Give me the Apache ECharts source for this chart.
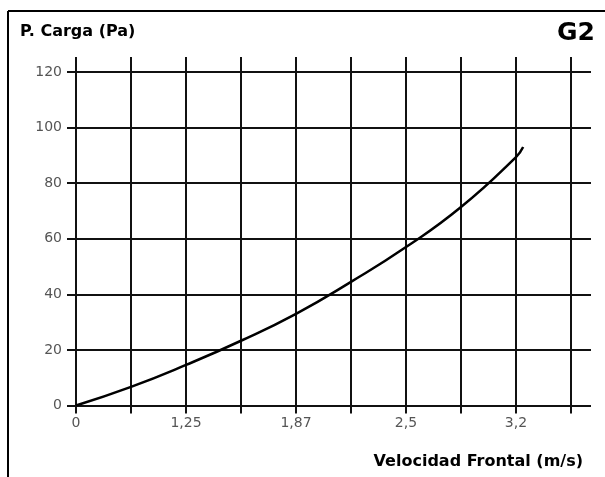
<!DOCTYPE html>
<html>
<head>
<meta charset="utf-8">
<script src="https://cdn.jsdelivr.net/npm/echarts@6/dist/echarts.min.js"></script>
<style>
  html, body { margin: 0; padding: 0; background: #fff; }
  #chart { width: 605px; height: 477px; }
</style>
</head>
<body>
<div id="chart"></div>
<script>
// x positions are grid steps (one vertical line per step), labelled below
const xTickLabels = ['0', '', '1,25', '', '1,87', '', '2,5', '', '3,2', '']
const yTicks = [0, 20, 40, 60, 80, 100, 120]

// curve: grid step -> pressure (Pa)
const curveX = [0, 1, 2, 3, 4, 5, 6, 7, 8, 8.13]
const curveY = [0, 6.7, 14.6, 23.3, 33, 44.5, 57, 71.4, 89.4, 93]

const ink = '#111'
const font = '"DejaVu Sans", "Liberation Sans", sans-serif'

const chart = echarts.init(document.getElementById('chart'))

const lineStyle = { color: ink, width: 2 }

chart.setOption({
  animation: false,
  backgroundColor: '#fff',
  title: [
    { text: 'P. Carga (Pa)', left: 20, top: 24, padding: 0,
      textStyle: { fontFamily: font, fontSize: 16, fontWeight: 'bold', color: '#000' } },
    { text: 'G2', right: 10, top: 21, padding: 0,
      textStyle: { fontFamily: font, fontSize: 25, fontWeight: 'bold', color: '#000' } },
    { text: 'Velocidad Frontal (m/s)', right: 22, top: 454, padding: 0,
      textStyle: { fontFamily: font, fontSize: 16, fontWeight: 'bold', color: '#000' } }
  ],
  grid: { left: 76, right: 34, top: 72, bottom: 71.5, containLabel: false },
  xAxis: [
    {
      type: 'value', position: 'bottom', min: 0, max: 9, interval: 1,
      axisLine: { show: true, onZero: false, lineStyle },
      axisTick: { show: true, length: 8, lineStyle },
      splitLine: { show: true, lineStyle },
      axisLabel: {
        margin: 11, color: '#555', fontFamily: font, fontSize: 14,
        showMaxLabel: true, showMinLabel: true,
        formatter: v => xTickLabels[Math.round(v)] || ''
      }
    },
    {
      // only the tick stubs poking out above the top line
      type: 'value', position: 'top', min: 0, max: 9, interval: 1,
      axisLine: { show: true, onZero: false, lineStyle },
      axisTick: { show: true, length: 15, lineStyle },
      splitLine: { show: false },
      axisLabel: { show: false }
    }
  ],
  yAxis: [
    {
      type: 'value', position: 'left', min: yTicks[0], max: yTicks[yTicks.length - 1], interval: 20,
      axisLine: { show: true, onZero: false, lineStyle },
      axisTick: { show: true, length: 9, lineStyle },
      splitLine: { show: true, lineStyle },
      axisLabel: { margin: 14, color: '#555', fontFamily: font, fontSize: 14 }
    },
    {
      // horizontal lines run on past the last vertical
      type: 'value', position: 'right', min: yTicks[0], max: yTicks[yTicks.length - 1], interval: 20,
      axisLine: { show: true, onZero: false, lineStyle },
      axisTick: { show: true, length: 20, lineStyle },
      splitLine: { show: false },
      axisLabel: { show: false }
    }
  ],
  series: [{
    type: 'line',
    data: curveX.map((x, i) => [x, curveY[i]]),
    smooth: true,
    symbol: 'none',
    lineStyle: { color: '#000', width: 2.5 },
    z: 5
  }],
  graphic: [
    { type: 'line', shape: { x1: 8, y1: 11, x2: 605, y2: 11 }, style: { stroke: '#000', lineWidth: 2 } },
    { type: 'line', shape: { x1: 8, y1: 11, x2: 8, y2: 477 }, style: { stroke: '#000', lineWidth: 2 } },
    // the label in the original is cut off just under its baseline
    { type: 'rect', z: 100, shape: { x: 15, y: 40, width: 130, height: 12 }, style: { fill: '#fff' } }
  ]
})
</script>
</body>
</html>
